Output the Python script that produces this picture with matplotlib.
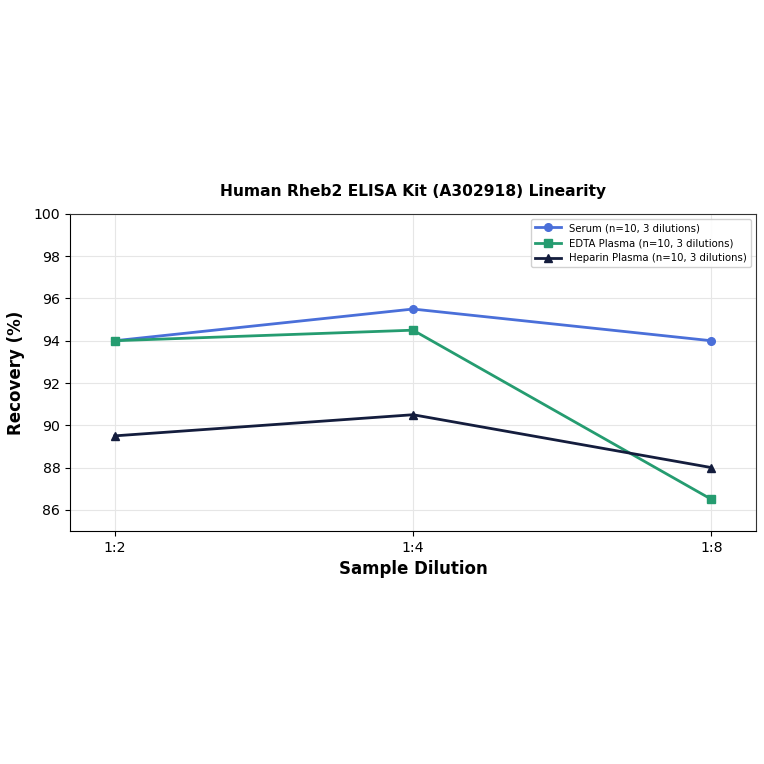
import matplotlib
matplotlib.use("Agg")
import matplotlib.pyplot as plt

dilutions = ["1:2", "1:4", "1:8"]
serum = [94.0, 95.5, 94.0]
edta = [94.0, 94.5, 86.5]
heparin = [89.5, 90.5, 88.0]
labels = ["Serum (n=10, 3 dilutions)", "EDTA Plasma (n=10, 3 dilutions)", "Heparin Plasma (n=10, 3 dilutions)"]
colors = ["#4a6fd9", "#259c70", "#141d3d"]
markers = ["o", "s", "^"]

fig = plt.figure(figsize=(7.64, 7.64), dpi=100)
ax = fig.add_axes([0.0916, 0.305, 0.898, 0.415])
x = list(range(len(dilutions)))
for vals, lab, c, m in zip([serum, edta, heparin], labels, colors, markers):
    ax.plot(x, vals, color=c, marker=m, lw=2, ms=5.5, label=lab)

ax.set_xticks(x)
ax.set_xticklabels(dilutions)
ax.set_xlim(-0.15, 2.15)
ax.set_ylim(85, 100)
ax.set_yticks(range(86, 101, 2))
ax.tick_params(labelsize=10.2)
ax.grid(True, color="#e6e6e6", lw=0.8)
ax.set_axisbelow(True)
ax.set_xlabel("Sample Dilution", fontsize=12, fontweight="bold", labelpad=4)
ax.set_ylabel("Recovery (%)", fontsize=12, fontweight="bold", labelpad=6)
ax.set_title("Human Rheb2 ELISA Kit (A302918) Linearity", fontsize=11.2, fontweight="bold", pad=13)
for s in ["top", "right"]:
    ax.spines[s].set_color("#333333")
for s in ["left", "bottom"]:
    ax.spines[s].set_color("black")
ax.legend(loc="upper right", fontsize=7.3, framealpha=0.9, handlelength=2.6,
          borderpad=0.4, labelspacing=0.5)
fig.savefig("out.png", dpi=100)
